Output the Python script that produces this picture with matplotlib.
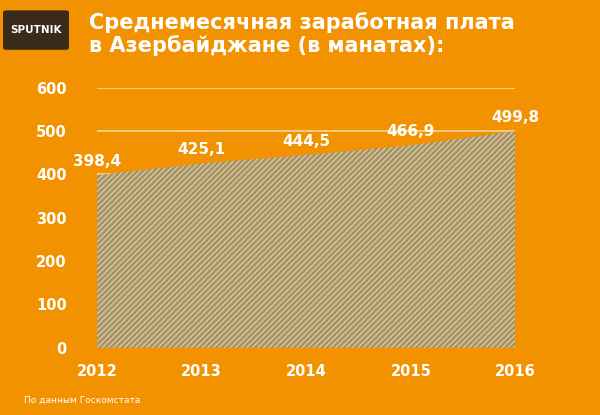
import matplotlib.pyplot as plt
from matplotlib.patches import FancyBboxPatch

years = [2012, 2013, 2014, 2015, 2016]
salary = [398.4, 425.1, 444.5, 466.9, 499.8]
labels = ["398,4", "425,1", "444,5", "466,9", "499,8"]
yticks = [0, 100, 200, 300, 400, 500, 600]

bg = "#F39200"
plt.rcParams["hatch.color"] = "#E6DAB8"
plt.rcParams["hatch.linewidth"] = 0.7

fig = plt.figure(figsize=(6, 4.15), dpi=100, facecolor=bg)
ax = fig.add_axes([0.162, 0.162, 0.697, 0.627], facecolor=bg)

ax.fill_between(years, salary, 0, facecolor="#A89465", edgecolor="#E6DAB8",
                hatch="//////", linewidth=0)
for y in yticks[1:]:
    ax.axhline(y, color="#FAD79A", linewidth=1.2, zorder=0)
for x, v, t in zip(years, salary, labels):
    ax.text(x, v + 14, t, color="white", fontsize=11, fontweight="bold",
            ha="center", va="bottom")

ax.set_xlim(2012, 2016)
ax.set_ylim(0, 600)
ax.set_xticks(years)
ax.set_yticks(yticks)
ax.tick_params(length=0, colors="white", labelsize=10.5)
ax.tick_params(axis="y", pad=22)
ax.tick_params(axis="x", pad=12)
for lab in ax.get_xticklabels() + ax.get_yticklabels():
    lab.set_fontweight("bold")
for s in ax.spines.values():
    s.set_visible(False)

fig.text(0.148, 0.945, "Среднемесячная заработная плата", color="white",
         fontsize=15, fontweight="bold", va="center")
fig.text(0.148, 0.89, "в Азербайджане (в манатах):", color="white",
         fontsize=15, fontweight="bold", va="center")
fig.patches.append(FancyBboxPatch((0.01, 0.885), 0.1, 0.085,
                                  boxstyle="round,pad=0.005", transform=fig.transFigure,
                                  facecolor="#3a2a1a", edgecolor="none"))
fig.text(0.06, 0.928, "SPUTNIK", color="white", fontsize=7.5, fontweight="bold",
         ha="center", va="center")
fig.text(0.04, 0.035, "По данным Госкомстата", color="white", fontsize=6.5, va="center")

fig.savefig("out.png", dpi=100, facecolor=bg)
